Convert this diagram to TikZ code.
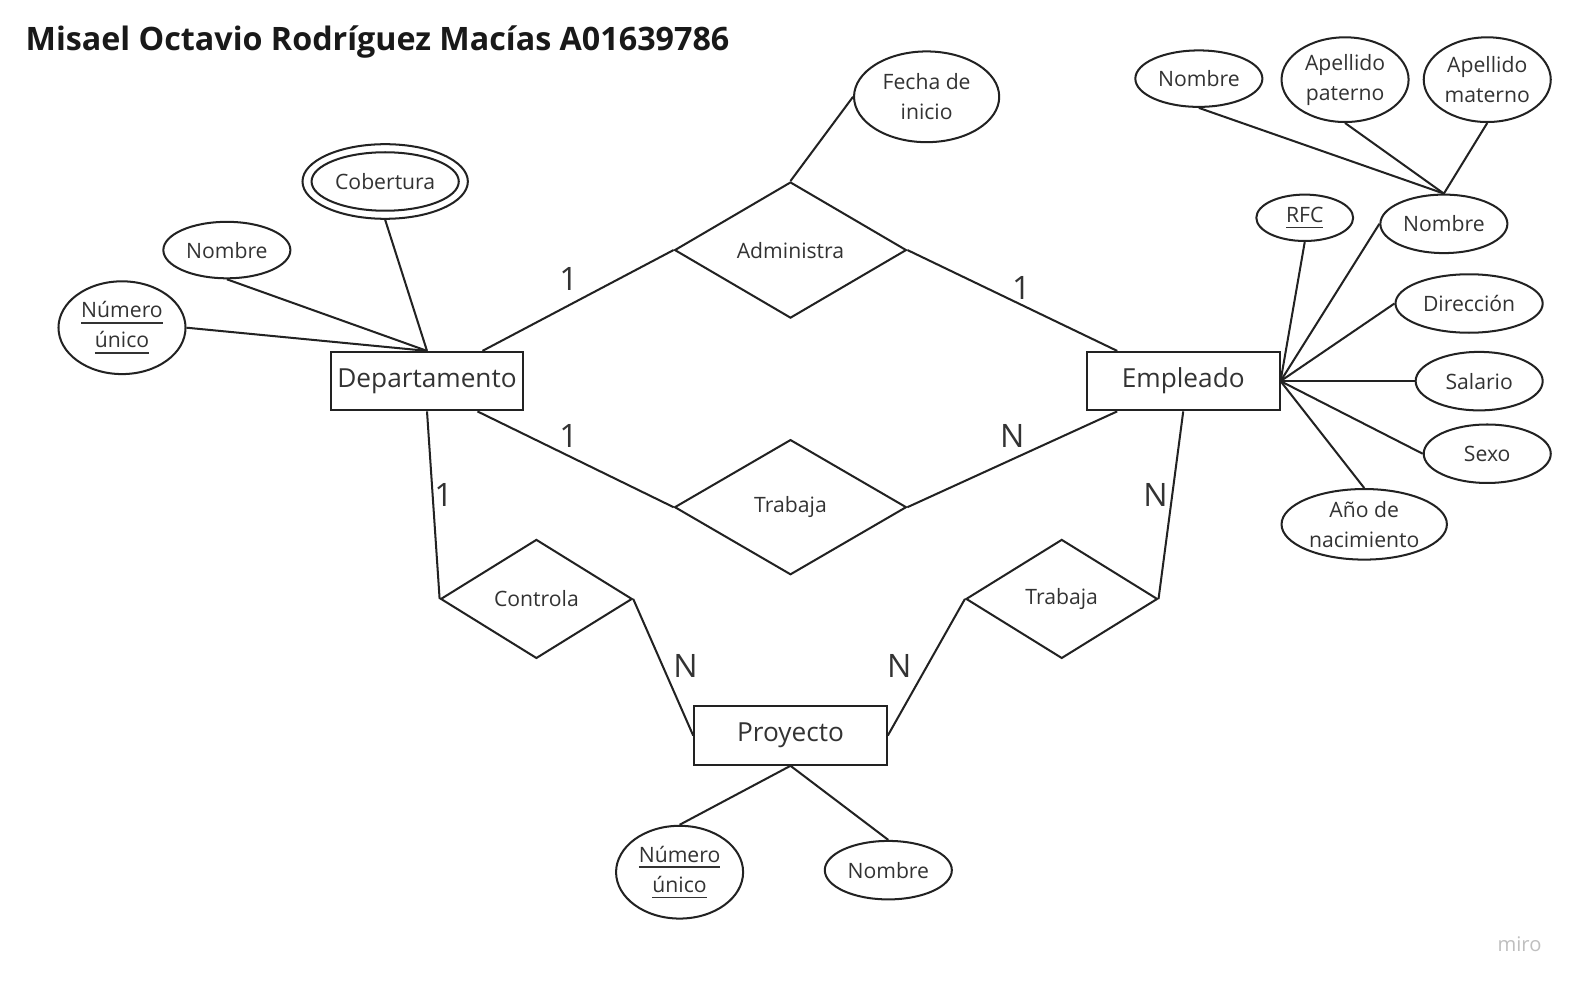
\documentclass[tikz,border=0pt]{standalone}
\usepackage{fontspec}
\setmainfont{Open Sans}
\usetikzlibrary{shapes.geometric}
\definecolor{ink}{HTML}{222222}
\definecolor{txt}{HTML}{333333}
\newcommand{\ul}[1]{\setbox0\hbox{#1}\leavevmode\rlap{\rule[-3pt]{\wd0}{0.9pt}}\box0}
\begin{document}
\begin{tikzpicture}[x=0.5pt,y=-0.5pt,
  every node/.style={text=txt},
  ln/.style={draw=ink,line width=1pt},
  entity/.style={draw=ink,line width=1pt,rectangle,minimum width=95.5pt,minimum height=29pt,inner sep=0pt,font=\fontsize{13}{15}\selectfont},
  attr/.style={draw=ink,line width=1pt,ellipse,inner sep=0pt,align=center,font=\fontsize{10.5}{15}\selectfont},
  rel/.style={draw=ink,line width=1pt,diamond,inner sep=0pt,font=\fontsize{10.5}{13}\selectfont},
  card/.style={font=\fontsize{16}{18}\selectfont,inner sep=0pt}
]
\useasboundingbox (0,0) rectangle (1568,980);
\fill[white] (0,0) rectangle (1568,980);

\node[anchor=west,inner sep=0pt,font=\fontsize{16}{18}\selectfont\bfseries,text=black!90] (title) at (25,42) {Misael Octavio Rodríguez Macías A01639786};

% entities
\node[entity] (dept) at (423.5,378) {Departamento};
\node[entity] (emp) at (1173.5,378) {Empleado};
\node[entity] (proy) at (784,729.5) {Proyecto};

% relationships
\node[rel,minimum width=115pt,minimum height=67.5pt] (adm) at (784,248) {Administra};
\node[rel,minimum width=115pt,minimum height=67pt] (trab) at (784,503) {Trabaja};
\node[rel,minimum width=95pt,minimum height=59pt] (ctrl) at (532,594) {Controla};
\node[rel,minimum width=95pt,minimum height=59pt] (trab2) at (1053,594) {Trabaja};

% attributes
\node[attr,minimum width=72pt,minimum height=45pt] (fecha) at (919,96) {Fecha de\\inicio};
\node[attr,minimum width=82pt,minimum height=37pt] (cob) at (382,180) {};
\node[attr,minimum width=73pt,minimum height=29pt] (cobin) at (382,180) {Cobertura};
\node[attr,minimum width=63pt,minimum height=28pt] (nomD) at (225,248) {Nombre};
\node[attr,minimum width=63pt,minimum height=46pt] (numD) at (121,325) {\ul{Número}\\\ul{único}};

\node[attr,minimum width=63pt,minimum height=28pt] (nomT) at (1189,78) {Nombre};
\node[attr,minimum width=63pt,minimum height=42pt] (ap) at (1334,79) {Apellido\\paterno};
\node[attr,minimum width=63pt,minimum height=42pt] (am) at (1475,79) {Apellido\\materno};
\node[attr,minimum width=48pt,minimum height=23pt] (rfc) at (1294,216) {\ul{RFC}};
\node[attr,minimum width=63pt,minimum height=29pt] (nomE) at (1432,222) {Nombre};
\node[attr,minimum width=73pt,minimum height=29pt] (dir) at (1457,301) {Dirección};
\node[attr,minimum width=63pt,minimum height=29pt] (sal) at (1467,378) {Salario};
\node[attr,minimum width=63pt,minimum height=29pt] (sexo) at (1475,450) {Sexo};
\node[attr,minimum width=82pt,minimum height=35pt] (anio) at (1353,520) {Año de\\nacimiento};

\node[attr,minimum width=63pt,minimum height=46pt] (numP) at (674,865) {\ul{Número}\\\ul{único}};
\node[attr,minimum width=63pt,minimum height=29pt] (nomP) at (881,863) {Nombre};

% connectors: Departamento
\draw[ln] (dept.north) -- (cob.south);
\draw[ln] (dept.north) -- (nomD.south);
\draw[ln] (dept.north) -- (numD.east);
\draw[ln] ([xshift=27.5pt]dept.north) -- (adm.west);
\draw[ln] (adm.east) -- ([xshift=-32.75pt]emp.north);
\draw[ln] (adm.north) -- (fecha.west);
\draw[ln] ([xshift=25pt]dept.south) -- (trab.west);
\draw[ln] (trab.east) -- ([xshift=-32.75pt]emp.south);
\draw[ln] (dept.south) -- (ctrl.west);
\draw[ln] (ctrl.east) -- (proy.west);
\draw[ln] (emp.south) -- (trab2.east);
\draw[ln] (trab2.west) -- (proy.east);
\draw[ln] (proy.south) -- (numP.north);
\draw[ln] (proy.south) -- (nomP.north);

% Empleado attributes
\draw[ln] (emp.east) -- (rfc.south);
\draw[ln] (emp.east) -- (nomE.west);
\draw[ln] (emp.east) -- (dir.west);
\draw[ln] (emp.east) -- (sal.west);
\draw[ln] (emp.east) -- (sexo.west);
\draw[ln] (emp.east) -- (anio.north);
\draw[ln] (nomE.north) -- (nomT.south);
\draw[ln] (nomE.north) -- (ap.south);
\draw[ln] (nomE.north) -- (am.south);

% cardinalities
\node[card] (c1) at (564,277) {1};
\node[card] (c2) at (1013,286) {1};
\node[card] (c3) at (564,432) {1};
\node[card] (c4) at (1004,432) {N};
\node[card] (c5) at (440,491) {1};
\node[card] (c6) at (1146,491) {N};
\node[card] (c7) at (680,660) {N};
\node[card] (c8) at (892,660) {N};

\node[text=black!25,font=\fontsize{10}{12}\selectfont,inner sep=0pt] (miro) at (1507,936) {miro};
\end{tikzpicture}
\end{document}
